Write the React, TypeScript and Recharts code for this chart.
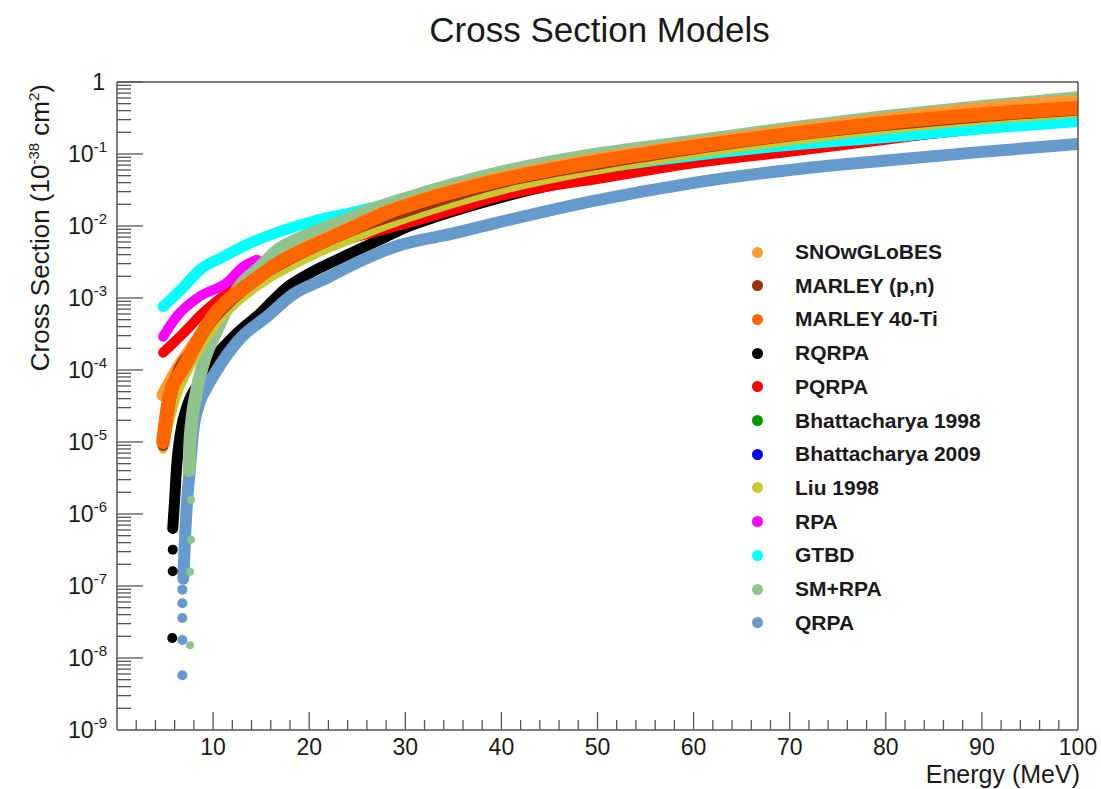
import React from "react";
import { ComposedChart, Line, Scatter, XAxis, YAxis } from "recharts";

// cross sections in 10^-38 cm^2 vs neutrino energy (MeV)
const snowglobes = [
  { e: 4.8, xs: 4.5e-5 }, { e: 6, xs: 8.9e-5 }, { e: 8, xs: 2.24e-4 }, { e: 10, xs: 5.2e-4 },
  { e: 12, xs: 1.05e-3 }, { e: 14, xs: 1.7e-3 }, { e: 17, xs: 3.24e-3 }, { e: 20, xs: 5.25e-3 },
  { e: 24, xs: 9.1e-3 }, { e: 28, xs: 1.58e-2 }, { e: 32, xs: 2.4e-2 }, { e: 40, xs: 4.7e-2 },
  { e: 50, xs: 8.5e-2 }, { e: 60, xs: 0.135 }, { e: 70, xs: 0.209 }, { e: 80, xs: 0.302 },
  { e: 90, xs: 0.425 }, { e: 100, xs: 0.54 },
];

const marleyPn = [
  { e: 4.8, xs: 8.9e-6 }, { e: 6, xs: 7.1e-5 }, { e: 8, xs: 2.0e-4 }, { e: 10, xs: 5.0e-4 },
  { e: 12, xs: 9.5e-4 }, { e: 15, xs: 2.0e-3 }, { e: 20, xs: 4.7e-3 }, { e: 25, xs: 9.3e-3 },
  { e: 30, xs: 1.58e-2 }, { e: 40, xs: 4.0e-2 }, { e: 50, xs: 7.2e-2 }, { e: 60, xs: 0.117 },
  { e: 70, xs: 0.178 }, { e: 80, xs: 0.25 }, { e: 90, xs: 0.33 }, { e: 100, xs: 0.41 },
];

const marley40Ti = [
  { e: 4.8, xs: 1.0e-5 }, { e: 5.5, xs: 4.5e-5 }, { e: 7, xs: 1.12e-4 }, { e: 8.6, xs: 2.8e-4 },
  { e: 10, xs: 5.6e-4 }, { e: 12, xs: 1.05e-3 }, { e: 14, xs: 1.66e-3 }, { e: 17, xs: 3.16e-3 },
  { e: 20, xs: 5.0e-3 }, { e: 24, xs: 8.7e-3 }, { e: 28, xs: 1.51e-2 }, { e: 32, xs: 2.29e-2 },
  { e: 40, xs: 4.37e-2 }, { e: 50, xs: 7.9e-2 }, { e: 60, xs: 0.126 }, { e: 70, xs: 0.19 },
  { e: 80, xs: 0.27 }, { e: 90, xs: 0.355 }, { e: 100, xs: 0.437 },
];

const rqrpa = [
  { e: 5.8, xs: 6.3e-7 }, { e: 6.0, xs: 1.58e-6 }, { e: 6.2, xs: 4.5e-6 }, { e: 6.6, xs: 1.32e-5 },
  { e: 7.3, xs: 3.16e-5 }, { e: 9, xs: 7.9e-5 }, { e: 10, xs: 1.38e-4 }, { e: 12, xs: 2.8e-4 },
  { e: 15, xs: 6.3e-4 }, { e: 17.7, xs: 1.41e-3 }, { e: 20, xs: 2.19e-3 }, { e: 24, xs: 3.98e-3 },
  { e: 28, xs: 7.1e-3 }, { e: 30, xs: 9.5e-3 }, { e: 33, xs: 1.32e-2 }, { e: 40, xs: 2.5e-2 },
  { e: 50, xs: 5.0e-2 }, { e: 60, xs: 7.9e-2 }, { e: 70, xs: 0.12 }, { e: 80, xs: 0.166 },
  { e: 90, xs: 0.229 }, { e: 100, xs: 0.302 },
];
const rqrpaTail = [
  { e: 5.8, xs: 3.2e-7 }, { e: 5.8, xs: 1.6e-7 }, { e: 5.75, xs: 1.9e-8 },
];

const pqrpa = [
  { e: 4.8, xs: 1.74e-4 }, { e: 6.9, xs: 3.24e-4 }, { e: 9, xs: 6.3e-4 }, { e: 11, xs: 1.05e-3 },
  { e: 15, xs: 2.4e-3 }, { e: 20, xs: 4.6e-3 }, { e: 25, xs: 7.1e-3 }, { e: 30, xs: 1.07e-2 },
  { e: 35, xs: 1.66e-2 }, { e: 40, xs: 2.63e-2 }, { e: 45, xs: 3.55e-2 }, { e: 50, xs: 4.5e-2 },
  { e: 60, xs: 7.4e-2 }, { e: 70, xs: 0.107 }, { e: 80, xs: 0.158 }, { e: 90, xs: 0.24 },
  { e: 100, xs: 0.347 },
];

const bhatt1998 = [
  { e: 4.8, xs: 1.26e-5 }, { e: 6, xs: 5.0e-5 }, { e: 8, xs: 1.78e-4 }, { e: 10, xs: 4.5e-4 },
  { e: 12, xs: 8.9e-4 }, { e: 14, xs: 1.41e-3 },
];

const bhatt2009 = [
  { e: 4.8, xs: 1.12e-5 }, { e: 6, xs: 6.3e-5 }, { e: 8, xs: 2.0e-4 }, { e: 10, xs: 5.0e-4 },
  { e: 12, xs: 1.0e-3 }, { e: 14, xs: 1.58e-3 },
];

const liu1998 = [
  { e: 4.8, xs: 7.9e-6 }, { e: 6, xs: 3.55e-5 }, { e: 8, xs: 1.41e-4 }, { e: 10, xs: 3.8e-4 },
  { e: 12, xs: 7.6e-4 }, { e: 15, xs: 1.58e-3 }, { e: 20, xs: 3.7e-3 }, { e: 25, xs: 7.1e-3 },
  { e: 30, xs: 1.26e-2 }, { e: 40, xs: 3.16e-2 }, { e: 50, xs: 6.0e-2 }, { e: 60, xs: 0.1 },
  { e: 70, xs: 0.151 }, { e: 80, xs: 0.219 }, { e: 90, xs: 0.295 }, { e: 100, xs: 0.372 },
];

const rpa = [
  { e: 4.8, xs: 2.9e-4 }, { e: 6.2, xs: 5.5e-4 }, { e: 8.6, xs: 1.05e-3 }, { e: 11.4, xs: 1.62e-3 },
  { e: 13.1, xs: 2.7e-3 }, { e: 14.6, xs: 3.4e-3 },
];

const gtbd = [
  { e: 4.8, xs: 7.6e-4 }, { e: 6.9, xs: 1.41e-3 }, { e: 8.6, xs: 2.45e-3 }, { e: 11, xs: 3.7e-3 },
  { e: 13.8, xs: 5.75e-3 }, { e: 17.3, xs: 8.7e-3 }, { e: 20.8, xs: 1.2e-2 }, { e: 24.2, xs: 1.51e-2 },
  { e: 30, xs: 2.29e-2 }, { e: 40, xs: 3.98e-2 }, { e: 50, xs: 6.3e-2 }, { e: 60, xs: 9.5e-2 },
  { e: 70, xs: 0.132 }, { e: 80, xs: 0.17 }, { e: 90, xs: 0.224 }, { e: 100, xs: 0.282 },
];

const smRpa = [
  { e: 7.5, xs: 3.98e-6 }, { e: 7.6, xs: 1.07e-5 }, { e: 8.3, xs: 5.25e-5 }, { e: 9, xs: 1.26e-4 },
  { e: 10.4, xs: 3.6e-4 }, { e: 12.5, xs: 1.29e-3 }, { e: 14.9, xs: 2.7e-3 }, { e: 16.6, xs: 4.5e-3 },
  { e: 19.4, xs: 7.1e-3 }, { e: 22.9, xs: 1.1e-2 }, { e: 27, xs: 1.78e-2 }, { e: 30, xs: 2.4e-2 },
  { e: 40, xs: 5.6e-2 }, { e: 50, xs: 0.1 }, { e: 60, xs: 0.151 }, { e: 70, xs: 0.229 },
  { e: 80, xs: 0.331 }, { e: 90, xs: 0.457 }, { e: 100, xs: 0.603 },
];
const smRpaTail = [
  { e: 7.7, xs: 1.58e-6 }, { e: 7.7, xs: 4.4e-7 }, { e: 7.6, xs: 1.58e-7 }, { e: 7.6, xs: 1.5e-8 },
];

const qrpa = [
  { e: 6.9, xs: 1.26e-7 }, { e: 7.1, xs: 5.4e-7 }, { e: 7.3, xs: 1.58e-6 }, { e: 7.6, xs: 4.5e-6 },
  { e: 7.9, xs: 1.32e-5 }, { e: 8.6, xs: 3.55e-5 }, { e: 9.3, xs: 5.6e-5 }, { e: 10.4, xs: 1.0e-4 },
  { e: 13, xs: 2.9e-4 }, { e: 15.6, xs: 5.5e-4 }, { e: 18.3, xs: 1.12e-3 }, { e: 21.4, xs: 1.78e-3 },
  { e: 25.6, xs: 3.4e-3 }, { e: 29, xs: 5.2e-3 }, { e: 35, xs: 7.9e-3 }, { e: 40, xs: 1.15e-2 },
  { e: 50, xs: 2.29e-2 }, { e: 60, xs: 3.98e-2 }, { e: 70, xs: 6.0e-2 }, { e: 80, xs: 8.1e-2 },
  { e: 90, xs: 0.107 }, { e: 100, xs: 0.138 },
];
const qrpaTail = [
  { e: 6.8, xs: 8.9e-8 }, { e: 6.8, xs: 5.75e-8 }, { e: 6.8, xs: 3.6e-8 },
  { e: 6.8, xs: 1.78e-8 }, { e: 6.8, xs: 5.75e-9 },
];

const xTicks = [0, 2, 4, 6, 8, 10, 12, 14, 16, 18, 20, 22, 24, 26, 28, 30, 32, 34, 36, 38, 40, 42, 44,
  46, 48, 50, 52, 54, 56, 58, 60, 62, 64, 66, 68, 70, 72, 74, 76, 78, 80, 82, 84, 86, 88, 90, 92, 94,
  96, 98, 100];
const yDecades = [-9, -8, -7, -6, -5, -4, -3, -2, -1];
const yMinorSteps = [1, 2, 3, 4, 5, 6, 7, 8, 9];
const yTicks = [
  ...yDecades.flatMap((d) => yMinorSteps.map((k) => k * Math.pow(10, d))),
  1,
];

// legend order
const models = [
  { name: "SNOwGLoBES", color: "#ff9933" },
  { name: "MARLEY (p,n)", color: "#993300" },
  { name: "MARLEY 40-Ti", color: "#ff6600" },
  { name: "RQRPA", color: "#000000" },
  { name: "PQRPA", color: "#ff0000" },
  { name: "Bhattacharya 1998", color: "#009900" },
  { name: "Bhattacharya 2009", color: "#0000ff" },
  { name: "Liu 1998", color: "#c8c832" },
  { name: "RPA", color: "#ff00ff" },
  { name: "GTBD", color: "#00ffff" },
  { name: "SM+RPA", color: "#8fc48f" },
  { name: "QRPA", color: "#6699cc" },
];
const colorOf = (n: string) => models.find((m) => m.name === n)!.color;

// drawing order, back to front
const layers = [
  { name: "Bhattacharya 1998", data: bhatt1998, width: 9 },
  { name: "Bhattacharya 2009", data: bhatt2009, width: 9 },
  { name: "RQRPA", data: rqrpa, width: 11 },
  { name: "QRPA", data: qrpa, width: 12 },
  { name: "PQRPA", data: pqrpa, width: 10 },
  { name: "GTBD", data: gtbd, width: 11 },
  { name: "RPA", data: rpa, width: 10 },
  { name: "SM+RPA", data: smRpa, width: 13 },
  { name: "SNOwGLoBES", data: snowglobes, width: 13 },
  { name: "Liu 1998", data: liu1998, width: 9 },
  { name: "MARLEY (p,n)", data: marleyPn, width: 11 },
  { name: "MARLEY 40-Ti", data: marley40Ti, width: 14 },
];

const tails = [
  { name: "RQRPA", data: rqrpaTail, r: 5 },
  { name: "SM+RPA", data: smRpaTail, r: 4 },
  { name: "QRPA", data: qrpaTail, r: 5 },
];

const FONT = "'Liberation Sans', Arial, Helvetica, sans-serif";
const FRAME = "#555";
const TEXT = "#1a1a1a";

function XTick(props: any) {
  const { x, y, payload } = props;
  const v = payload.value;
  const major = v % 10 === 0;
  const len = major ? 18 : 10;
  return (
    <g>
      {v > 0 && v < 100 && (
        <line x1={x} x2={x} y1={y} y2={y - len} stroke={FRAME} strokeWidth={1.3} />
      )}
      {major && v > 0 && (
        <text x={x} y={y + 25} textAnchor="middle" fontSize={23} fill={TEXT} fontFamily={FONT}>
          {v}
        </text>
      )}
    </g>
  );
}

function YTick(props: any) {
  const { x, y, payload } = props;
  const p = Math.log10(payload.value);
  const pr = Math.round(p);
  const major = Math.abs(p - pr) < 1e-6;
  const len = major ? 26 : 14;
  return (
    <g>
      {pr > -9 || !major ? (
        <line x1={x} x2={x + len} y1={y} y2={y} stroke={FRAME} strokeWidth={1.3} />
      ) : null}
      {major &&
        (pr === 0 ? (
          <text x={x - 12} y={y + 8} textAnchor="end" fontSize={23} fill={TEXT} fontFamily={FONT}>
            1
          </text>
        ) : (
          <text x={x - 10} y={y + 8} textAnchor="end" fontSize={23} fill={TEXT} fontFamily={FONT}>
            10
            <tspan fontSize={15} dy={-10}>
              {pr}
            </tspan>
          </text>
        ))}
    </g>
  );
}

export default function App() {
  return (
    <div
      style={{
        position: "absolute",
        left: 0,
        top: 0,
        width: 1101,
        height: 789,
        background: "#fff",
        fontFamily: FONT,
        color: TEXT,
      }}
    >
      <ComposedChart
        width={1101}
        height={789}
        margin={{ top: 81, right: 22, bottom: 58, left: 116 }}
      >
        <XAxis
          xAxisId="bottom"
          dataKey="e"
          type="number"
          domain={[0, 100]}
          allowDataOverflow
          ticks={xTicks}
          interval={0}
          height={1}
          tickSize={0}
          tickMargin={0}
          tick={<XTick />}
          axisLine={{ stroke: FRAME, strokeWidth: 1.5 }}
        />
        <XAxis
          xAxisId="top"
          orientation="top"
          dataKey="e"
          type="number"
          domain={[0, 100]}
          height={1}
          tick={false}
          tickLine={false}
          axisLine={{ stroke: FRAME, strokeWidth: 1.5 }}
        />
        <YAxis
          yAxisId="left"
          scale="log"
          type="number"
          domain={[1e-9, 1]}
          allowDataOverflow
          ticks={yTicks}
          interval={0}
          width={1}
          tickSize={0}
          tickMargin={0}
          tick={<YTick />}
          axisLine={{ stroke: FRAME, strokeWidth: 1.5 }}
        />
        <YAxis
          yAxisId="right"
          orientation="right"
          scale="log"
          type="number"
          domain={[1e-9, 1]}
          width={1}
          tick={false}
          tickLine={false}
          axisLine={{ stroke: FRAME, strokeWidth: 1.5 }}
        />
        {layers.map((l) => (
          <Line
            key={l.name}
            xAxisId="bottom"
            yAxisId="left"
            data={l.data}
            dataKey="xs"
            name={l.name}
            type="monotone"
            stroke={colorOf(l.name)}
            strokeWidth={l.width}
            strokeLinecap="round"
            strokeLinejoin="round"
            dot={false}
            activeDot={false}
            isAnimationActive={false}
          />
        ))}
        {tails.map((t) => (
          <Scatter
            key={t.name + "-tail"}
            xAxisId="bottom"
            yAxisId="left"
            data={t.data}
            dataKey="xs"
            name={t.name}
            isAnimationActive={false}
            shape={(p: any) => <circle cx={p.cx} cy={p.cy} r={t.r} fill={colorOf(t.name)} />}
          />
        ))}
      </ComposedChart>

      <div
        style={{
          position: "absolute",
          left: 0,
          width: 1101,
          top: 10,
          textAlign: "center",
          fontSize: 35,
          paddingLeft: 98,
          boxSizing: "border-box",
        }}
      >
        Cross Section Models
      </div>

      <div
        style={{
          position: "absolute",
          left: 35,
          top: 84,
          transformOrigin: "0 0",
          transform: "translate(-16px, 0) rotate(-90deg) translateX(-100%)",
          fontSize: 26,
          whiteSpace: "nowrap",
          lineHeight: "30px",
        }}
      >
        Cross Section (10<sup style={{ fontSize: 15 }}>-38</sup> cm<sup style={{ fontSize: 15 }}>2</sup>)
      </div>

      <div
        style={{
          position: "absolute",
          right: 1101 - 1080,
          top: 762,
          fontSize: 25,
          lineHeight: "24px",
          whiteSpace: "nowrap",
        }}
      >
        Energy (MeV)
      </div>

      {models.map((m, i) => (
        <div
          key={m.name}
          style={{
            position: "absolute",
            left: 740,
            top: 252 + i * 33.7 - 16,
            height: 32,
            display: "flex",
            alignItems: "center",
            whiteSpace: "nowrap",
          }}
        >
          <span
            style={{
              display: "inline-block",
              width: 11,
              height: 11,
              borderRadius: "50%",
              background: m.color,
              marginLeft: 12,
              marginRight: 32,
            }}
          />
          <span style={{ fontSize: 21, fontWeight: "bold" }}>{m.name}</span>
        </div>
      ))}
    </div>
  );
}
